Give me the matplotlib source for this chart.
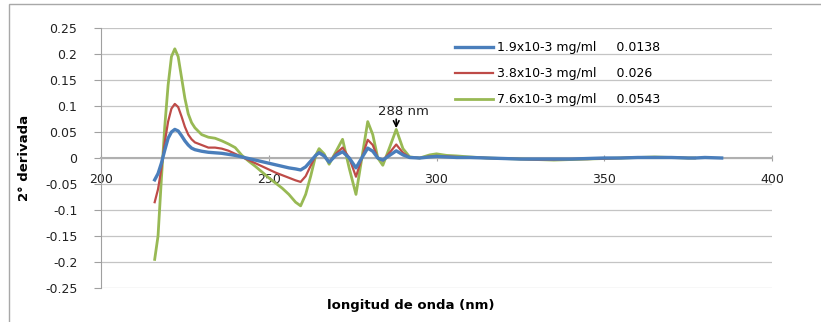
import numpy as np
import matplotlib
matplotlib.use("Agg")
import matplotlib.pyplot as plt
from matplotlib.patches import Rectangle

# longitud de onda (nm)
wl = [216, 217, 218, 219, 220, 221, 222, 223, 224, 225, 226, 227, 228,
      230, 232, 234, 236, 238, 240, 242, 244, 246, 248, 250, 252, 254, 256, 258,
      259.5, 261, 262.5, 264, 265, 266.5, 268,
      270, 272, 274, 276, 278,
      279.5, 281, 282.5,
      284, 286, 288, 290, 292,
      295, 298, 300, 303, 306, 310,
      315, 320, 325, 330, 335, 340, 345, 350, 355, 360, 365, 370, 375,
      377, 380, 385]

# 1.9x10-3 mg/ml
blue = [-0.042, -0.03, -0.01, 0.015, 0.038, 0.05, 0.055, 0.052, 0.043, 0.033, 0.025, 0.019, 0.016,
        0.013, 0.011, 0.01, 0.009, 0.007, 0.005, 0.002, -0.001, -0.004, -0.007, -0.01, -0.013, -0.016, -0.019, -0.021,
        -0.023, -0.017, -0.006, 0.005, 0.01, 0.004, -0.008,
        0.005, 0.012, 0.0, -0.019, 0.003,
        0.019, 0.013, 0.0,
        -0.004, 0.005, 0.0138, 0.006, 0.001,
        0.0, 0.002, 0.003, 0.002, 0.001, 0.001,
        0.0, -0.001, -0.002, -0.002, -0.002, -0.002, -0.001, 0.0, 0.0, 0.001, 0.001, 0.001, 0.0,
        0.0, 0.001, 0.0]

# 3.8x10-3 mg/ml
red = [-0.085, -0.06, -0.02, 0.03, 0.07, 0.095, 0.104, 0.098, 0.08, 0.06, 0.045, 0.036, 0.03,
       0.025, 0.02, 0.02, 0.018, 0.014, 0.008, 0.002, -0.004, -0.01, -0.016, -0.022, -0.028, -0.033, -0.038, -0.043,
       -0.046, -0.035, -0.015, 0.005, 0.011, 0.005, -0.008,
       0.008, 0.02, 0.0, -0.036, 0.005,
       0.035, 0.025, 0.0,
       -0.005, 0.01, 0.026, 0.01, 0.001,
       0.0, 0.003, 0.004, 0.003, 0.002, 0.001,
       0.0, -0.001, -0.002, -0.003, -0.003, -0.002, -0.002, -0.001, 0.0, 0.001, 0.001, 0.001, 0.0,
       0.0, np.nan, np.nan]

# 7.6x10-3 mg/ml
green = [-0.195, -0.15, -0.04, 0.06, 0.14, 0.195, 0.21, 0.195, 0.155, 0.115, 0.085, 0.068, 0.058,
         0.045, 0.04, 0.038, 0.033, 0.027, 0.02, 0.005, -0.006, -0.016, -0.027, -0.038, -0.048, -0.058, -0.07, -0.085,
         -0.092, -0.07, -0.035, 0.005, 0.018, 0.008, -0.012,
         0.012, 0.036, -0.02, -0.07, 0.01,
         0.07, 0.045, 0.0,
         -0.014, 0.02, 0.055, 0.018, 0.002,
         0.0, 0.006, 0.008, 0.005, 0.004, 0.002,
         0.0, -0.001, -0.002, -0.003, -0.004, -0.003, -0.002, -0.001, 0.0, 0.001, 0.002, 0.001, 0.0,
         0.0, np.nan, np.nan]

labels = ["1.9x10-3 mg/ml     0.0138",
          "3.8x10-3 mg/ml     0.026",
          "7.6x10-3 mg/ml     0.0543"]
colors = ["#4a7ebb", "#be4b48", "#98b954"]

xticks = [200, 250, 300, 350, 400]
yticks = [0.25, 0.2, 0.15, 0.1, 0.05, 0, -0.05, -0.1, -0.15, -0.2, -0.25]
ytick_labels = ["0.25", "0.2", "0.15", "0.1", "0.05", "0", "-0.05", "-0.1", "-0.15", "-0.2", "-0.25"]

fig = plt.figure(figsize=(8.21, 3.22), dpi=100, facecolor="white")
ax = fig.add_axes([101 / 821, 1 - 288 / 322, (772 - 101) / 821, (288 - 28) / 322])

ax.plot(wl, green, color=colors[2], lw=2.0, label=labels[2], zorder=3)
ax.plot(wl, red, color=colors[1], lw=1.6, label=labels[1], zorder=4)
ax.plot(wl, blue, color=colors[0], lw=2.4, label=labels[0], zorder=5)

ax.set_xlim(200, 400)
ax.set_ylim(-0.25, 0.25)
ax.set_yticks(yticks)
ax.set_yticklabels(ytick_labels)
ax.set_xticks(xticks)
ax.grid(axis="y", color="#c4c4c4", lw=0.9)
ax.set_axisbelow(True)

for s in ["top", "right"]:
    ax.spines[s].set_visible(False)
ax.spines["left"].set_color("#a0a0a0")
ax.spines["bottom"].set_position(("data", 0))
ax.spines["bottom"].set_color("#b0b0b0")
ax.spines["bottom"].set_linewidth(1.5)

ax.tick_params(axis="y", length=5, color="#a0a0a0", labelsize=9, pad=12, labelcolor="#222222")
ax.tick_params(axis="x", length=4, direction="inout", color="#a0a0a0", labelsize=9, pad=9, labelcolor="#222222")

# leyenda en el orden original
h, l = ax.get_legend_handles_labels()
order = [2, 1, 0]
fig.legend([h[i] for i in order], [l[i] for i in order],
           loc="upper left", bbox_to_anchor=(455 / 821, 1 - 41 / 322),
           frameon=False, fontsize=9, handlelength=3.0, handletextpad=0.32,
           labelspacing=1.05, borderpad=0, borderaxespad=0)

ax.text(290.2, 0.0885, "288 nm", ha="center", va="center", fontsize=9.5, color="#222222")
ax.annotate("", xy=(288, 0.052), xytext=(288, 0.08),
            arrowprops=dict(arrowstyle="->", color="black", lw=1.2))

fig.text(411 / 821, 1 - 305 / 322, "longitud de onda (nm)", ha="center", va="center",
         fontsize=9.5, fontweight="bold")
fig.text(25 / 821, 1 - 158 / 322, "2° derivada", ha="center", va="center",
         rotation=90, fontsize=9.5, fontweight="bold")

# marco exterior del grafico
fig.patches.append(Rectangle((9 / 821, -0.2), 1.2, 1.2 - 4 / 322, transform=fig.transFigure,
                             fill=False, edgecolor="#a8a8a8", lw=1.0, clip_on=False))

fig.savefig("out.png", dpi=100, facecolor="white")
